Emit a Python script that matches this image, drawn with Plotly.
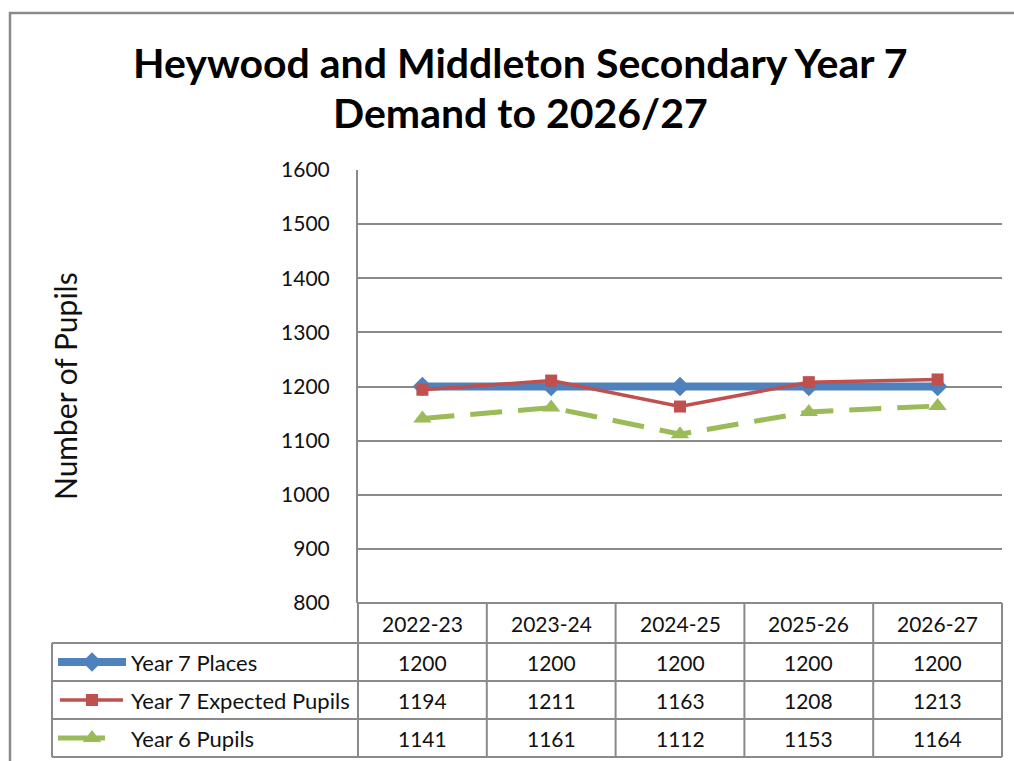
import plotly.graph_objects as go

W, H = 1014, 761

categories = ["2022-23", "2023-24", "2024-25", "2025-26", "2026-27"]
series_names = ["Year 7 Places", "Year 7 Expected Pupils", "Year 6 Pupils"]
year7_places = [1200, 1200, 1200, 1200, 1200]
year7_expected = [1194, 1211, 1163, 1208, 1213]
year6_pupils = [1141, 1161, 1112, 1153, 1164]
y_ticks = [800, 900, 1000, 1100, 1200, 1300, 1400, 1500, 1600]

title_lines = ["Heywood and Middleton Secondary Year 7", "Demand to 2026/27"]
y_title = "Number of Pupils"

BLUE, RED, GREEN = "#4F81BD", "#C0504D", "#9BBB59"
GRID = "#8A8A8A"
FONT = "Lato"
TXT = "#111111"

# layout geometry in pixels
PL, PR, PT, PB = 358, 1002, 170, 603
TL = 52
ROWS = [603, 643, 681, 719, 757]


def px(x):
    return x / W


def py(y):
    return 1 - y / H


series = [year7_places, year7_expected, year6_pupils]
styles = [
    dict(line=dict(color=BLUE, width=8), marker=dict(symbol="diamond", size=15, color=BLUE)),
    dict(line=dict(color=RED, width=3.5), marker=dict(symbol="square", size=12, color=RED)),
    dict(line=dict(color=GREEN, width=5, dash="32px,16px"), marker=dict(symbol="triangle-up", size=16, color=GREEN)),
]

fig = go.Figure()
for name, vals, st in zip(series_names, series, styles):
    fig.add_trace(go.Scatter(x=categories, y=vals, name=name, mode="lines+markers",
                             line=st["line"], marker=dict(**st["marker"], line=dict(width=0)),
                             showlegend=False, cliponaxis=False, xaxis="x", yaxis="y"))

# legend keys inside the data table (second subplot spanning the key column)
key_spans = [(58, 126), (60, 123), (58, 105)]
for i, (st, (x0, x1)) in enumerate(zip(styles, key_spans)):
    ln = dict(st["line"])
    ln.pop("dash", None)
    fig.add_trace(go.Scatter(x=[x0, x1], y=[i + 0.5, i + 0.5], mode="lines", line=ln,
                             showlegend=False, hoverinfo="skip", xaxis="x2", yaxis="y2"))
    fig.add_trace(go.Scatter(x=[92], y=[i + 0.5], mode="markers",
                             marker=dict(**st["marker"], line=dict(width=0)),
                             showlegend=False, hoverinfo="skip", xaxis="x2", yaxis="y2"))

shapes = []
line = dict(color=GRID, width=2)
# outer chart border
shapes.append(dict(type="rect", xref="paper", yref="paper", x0=px(10), x1=px(1040),
                   y0=py(13), y1=py(790), line=dict(color=GRID, width=2.5)))
# table horizontal lines
shapes.append(dict(type="line", xref="paper", yref="paper", x0=px(PL), x1=px(PR),
                   y0=py(ROWS[0]), y1=py(ROWS[0]), line=line))
for r in ROWS[1:]:
    shapes.append(dict(type="line", xref="paper", yref="paper", x0=px(TL), x1=px(PR),
                       y0=py(r), y1=py(r), line=line))
# table vertical lines
n = len(categories)
cw = (PR - PL) / n
for k in range(n + 1):
    xx = PL + k * cw
    shapes.append(dict(type="line", xref="paper", yref="paper", x0=px(xx), x1=px(xx),
                       y0=py(ROWS[0]), y1=py(ROWS[-1]), line=line))
shapes.append(dict(type="line", xref="paper", yref="paper", x0=px(TL), x1=px(TL),
                   y0=py(ROWS[1]), y1=py(ROWS[-1]), line=line))

ann = []
# title
for txt, yy in zip(title_lines, [63, 112]):
    ann.append(dict(text="<b>" + txt + "</b>", x=px(520), y=py(yy), xref="paper", yref="paper",
                    showarrow=False, xanchor="center", yanchor="middle",
                    font=dict(family=FONT, size=41, color="#000")))
# y title
ann.append(dict(text=y_title, x=px(65), y=py(386), xref="paper", yref="paper", textangle=-90,
                showarrow=False, xanchor="center", yanchor="middle",
                font=dict(family=FONT, size=30, color=TXT)))
# table header
hy = (ROWS[0] + ROWS[1]) / 2
for c in categories:
    ann.append(dict(text=c, x=c, y=py(hy), xref="x", yref="paper", showarrow=False,
                    xanchor="center", yanchor="middle", font=dict(family=FONT, size=21, color=TXT)))
# table rows
for i, (name, vals) in enumerate(zip(series_names, series)):
    ry = (ROWS[i + 1] + ROWS[i + 2]) / 2
    ann.append(dict(text=name, x=px(129), y=py(ry), xref="paper", yref="paper", showarrow=False,
                    xanchor="left", yanchor="middle", font=dict(family=FONT, size=22, color=TXT)))
    for c, v in zip(categories, vals):
        ann.append(dict(text=str(v), x=c, y=py(ry), xref="x", yref="paper", showarrow=False,
                        xanchor="center", yanchor="middle", font=dict(family=FONT, size=21, color=TXT)))

fig.update_layout(
    template="none",
    width=W, height=H,
    margin=dict(l=0, r=0, t=0, b=0, pad=0, autoexpand=False),
    paper_bgcolor="white", plot_bgcolor="white",
    showlegend=False,
    xaxis=dict(domain=[px(PL), px(PR)], type="category", range=[-0.5, n - 0.5], automargin=False,
               showticklabels=False, showgrid=False, zeroline=False, showline=False, ticks=""),
    yaxis=dict(domain=[py(PB), py(PT)], range=[800, 1600], tickvals=y_ticks, automargin=False,
               showgrid=True, gridcolor=GRID, gridwidth=2, zeroline=False,
               showline=True, linecolor=GRID, linewidth=2, ticks="",
               ticklabelstandoff=22, tickfont=dict(family=FONT, size=21, color=TXT)),
    xaxis2=dict(domain=[px(TL), px(PL)], range=[TL, PL], visible=False, anchor="y2", automargin=False),
    yaxis2=dict(domain=[py(ROWS[-1]), py(ROWS[1])], range=[3, 0], visible=False, anchor="x2", automargin=False),
    shapes=shapes,
    annotations=ann,
)

post = (
    "document.documentElement.style.margin='0';"
    "document.documentElement.style.overflow='hidden';"
    "document.body.style.margin='0';"
    "document.body.style.overflow='hidden';"
    "var d=document.getElementById('{plot_id}');"
    "d.style.position='fixed';d.style.top='0px';d.style.left='0px';"
)
fig.write_html("out.html", config={"displayModeBar": False}, post_script=post)
